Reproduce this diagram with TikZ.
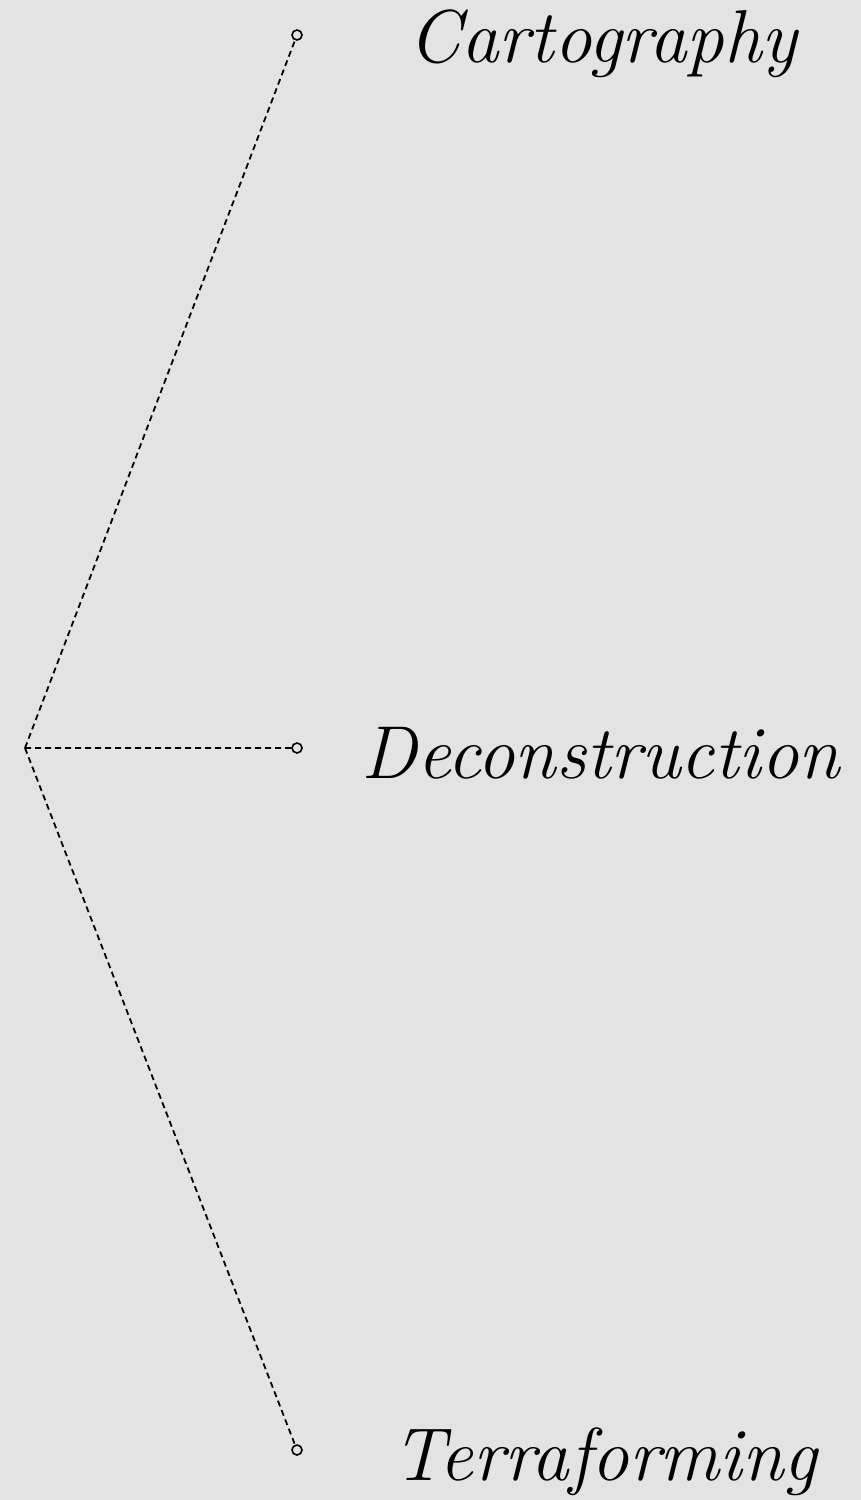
\documentclass[tikz,border=0pt]{standalone}
\usepackage{tikz}
\definecolor{paper}{HTML}{E3E3E3}
\tikzset{
  leaf/.style={circle,draw,fill=paper,inner sep=0pt,minimum size=5pt,line width=.8pt},
  branch/.style={dash pattern=on 3pt off 2pt,line width=.9pt},
  term/.style={anchor=base,inner sep=0pt,font=\fontsize{37.5}{41}\selectfont\itshape}
}
\begin{document}
\begin{tikzpicture}[x=.5pt,y=-.5pt]
\fill[paper] (0,0) rectangle (861,1500);
\coordinate (root) at (25,748);
\node[leaf] (carto) at (297,35) {};
\node[leaf] (decon) at (297,748) {};
\node[leaf] (terra) at (297,1450) {};
\draw[branch] (root)--(carto) (root)--(decon) (root)--(terra);
\node[term] (cartotxt) at (603,62) {Cartography};
\node[term] (decontxt) at (601,778) {Deconstruction};
\node[term] (terratxt) at (605,1480) {Terraforming};
\end{tikzpicture}
\end{document}
